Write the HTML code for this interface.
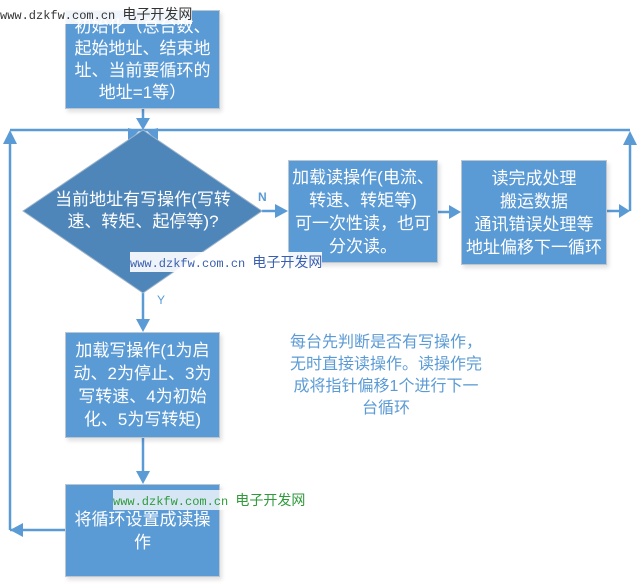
<!DOCTYPE html>
<html><head><meta charset="utf-8"><style>
body{margin:0;width:638px;height:587px;background:#fff;position:relative;overflow:hidden;font-family:"Liberation Sans","Noto Sans CJK SC",sans-serif}
.b{position:absolute;background:#5b9bd5;border:1px solid #bcc6d0;color:#fff;font-size:17px;line-height:23px;text-align:center;box-sizing:border-box;box-shadow:2px 3px 4px rgba(0,0,0,0.12);display:flex;align-items:center;justify-content:center;white-space:nowrap}
.t{position:absolute;white-space:nowrap}
.wm{font-family:"Liberation Mono","Noto Sans CJK SC",monospace;font-size:12px;background:rgba(255,255,255,0.9)}
</style></head><body>
<svg width="638" height="587" style="position:absolute;left:0;top:0">
<g stroke="#5b9bd5" stroke-width="2.5" fill="none">
<line x1="143" y1="109" x2="143" y2="120"/>
<line x1="10" y1="130" x2="630" y2="130"/>
<line x1="10" y1="140" x2="10" y2="530"/>
<line x1="10" y1="530" x2="65" y2="530"/>
<line x1="630" y1="145" x2="630" y2="211"/>
<line x1="607" y1="211" x2="622" y2="211"/>
<line x1="438" y1="212" x2="450" y2="212"/>
<line x1="262" y1="211" x2="276" y2="211"/>
<line x1="143" y1="293" x2="143" y2="320"/>
<line x1="143" y1="438" x2="143" y2="472"/>
</g>
<g fill="#5b9bd5">
<polygon points="136,118 150,118 143,130"/>
<polygon points="128,128 128,142 139,131"/>
<polygon points="158,128 158,142 147,131"/>
<polygon points="3,144 17,144 10,130"/>
<polygon points="623,145 637,145 630,131"/>
<polygon points="619,204 619,218 630,211"/>
<polygon points="449,205 449,219 461,212"/>
<polygon points="275,204 275,218 288,211"/>
<polygon points="136,319 150,319 143,332"/>
<polygon points="136,471 150,471 143,484"/>
<polygon points="10,530 23,523 23,537"/>
</g>
<polygon points="143,130 262,211 143,293 23,211" fill="#4e86ba" stroke="#9fb5cb" stroke-width="1"/>
</svg>
<div class="b" style="left:65px;top:10px;width:155px;height:99px;line-height:22px">初始化（总台数、<br>起始地址、结束地<br>址、当前要循环的<br>地址=1等）</div>
<div class="t" style="left:0;top:189px;width:286px;text-align:center;color:#fff;font-size:17px;line-height:22px">当前地址有写操作(写转<br>速、转矩、起停等)?</div>
<div class="t" style="left:258px;top:190px;color:#5b9bd5;font-size:12px;font-weight:bold">N</div>
<div class="t" style="left:157px;top:293px;color:#5b9bd5;font-size:12px">Y</div>
<div class="b" style="left:288px;top:160px;width:150px;height:103px">加载读操作(电流、<br>转速、转矩等)<br>可一次性读，也可<br>分次读。</div>
<div class="b" style="left:461px;top:160px;width:146px;height:105px">读完成处理<br>搬运数据<br>通讯错误处理等<br>地址偏移下一循环</div>
<div class="b" style="left:65px;top:332px;width:155px;height:106px">加载写操作(1为启<br>动、2为停止、3为<br>写转速、4为初始<br>化、5为写转矩)</div>
<div class="b" style="left:65px;top:484px;width:155px;height:93px">将循环设置成读操<br>作</div>
<div class="t" style="left:270px;top:332px;width:232px;text-align:center;color:#5b9bd5;font-size:16px;line-height:22px">每台先判断是否有写操作，<br>无时直接读操作。读操作完<br>成将指针偏移1个进行下一<br>台循环</div>
<div class="t wm" style="left:0;top:4px;color:#333">www.dzkfw.com.cn <span style="font-family:'Noto Sans CJK SC';font-size:14px">电子开发网</span></div>
<div class="t wm" style="left:130px;top:252px;color:#3a5fb0">www.dzkfw.com.cn <span style="font-family:'Noto Sans CJK SC';font-size:14px">电子开发网</span></div>
<div class="t wm" style="left:113px;top:490px;color:#2e9a3a;background:rgba(255,255,255,0.75)">www.dzkfw.com.cn <span style="font-family:'Noto Sans CJK SC';font-size:14px">电子开发网</span></div>
</body></html>
